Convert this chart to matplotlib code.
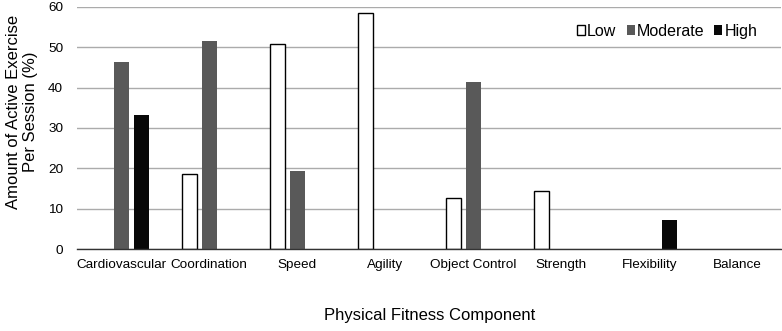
import matplotlib
matplotlib.use("Agg")
import matplotlib.pyplot as plt
import numpy as np

plt.rcParams['font.family'] = ['Liberation Sans', 'DejaVu Sans']

categories = ["Cardiovascular", "Coordination", "Speed", "Agility", "Object Control",
              "Strength", "Flexibility", "Balance"]
low = [0, 18.7, 50.9, 58.5, 12.6, 14.5, 0, 0]
moderate = [46.4, 51.6, 19.3, 0, 41.5, 0, 0, 0]
high = [33.1, 0, 0, 0, 0, 0, 7.2, 0]
yticks = [0, 10, 20, 30, 40, 50, 60]

def shown(v):
    a = np.array(v, dtype=float)
    return np.where(a > 0, a, np.nan)

fig = plt.figure(figsize=(7.82, 3.31), dpi=100)
ax = fig.add_axes([0.0985, 0.2477, 0.9005, 0.7312])

x = np.arange(len(categories))
w = 0.17
step = 0.227
ax.bar(x - step, shown(low), w, color='white', edgecolor='black', linewidth=1.0, label='Low', zorder=3)
ax.bar(x, shown(moderate), w, color='#595959', edgecolor='none', label='Moderate', zorder=3)
ax.bar(x + step, shown(high), w, color='#080808', edgecolor='none', label='High', zorder=3)

ax.set_xlim(-0.5, len(categories) - 0.5)
ax.set_ylim(0, 60)
ax.set_yticks(yticks)
ax.yaxis.grid(True, color='#ababab', linewidth=1.0, zorder=0)
ax.set_axisbelow(True)
for s in ['top', 'right', 'left']:
    ax.spines[s].set_visible(False)
ax.spines['bottom'].set_color('#333333')
ax.spines['bottom'].set_linewidth(1.0)
ax.spines['bottom'].set_zorder(4)
ax.tick_params(axis='both', length=0, labelsize=9.7, colors='black')
ax.tick_params(axis='x', pad=7)
ax.tick_params(axis='y', pad=10)
ax.set_xticks(x)
ax.set_xticklabels(categories)
ax.set_ylabel("Amount of Active Exercise\nPer Session (%)", fontsize=12)
ax.yaxis.set_label_coords(-0.055, 0.566)
ax.set_xlabel("Physical Fitness Component", fontsize=12)
ax.xaxis.set_label_coords(0.5014, -0.245)

leg = ax.legend(loc='center right', bbox_to_anchor=(0.966, 0.90), ncol=3, frameon=False,
                fontsize=11.5, handlelength=0.5, handleheight=0.5, handletextpad=0.12,
                columnspacing=0.65, borderaxespad=0, borderpad=0)

fig.savefig("out.png", dpi=100)
